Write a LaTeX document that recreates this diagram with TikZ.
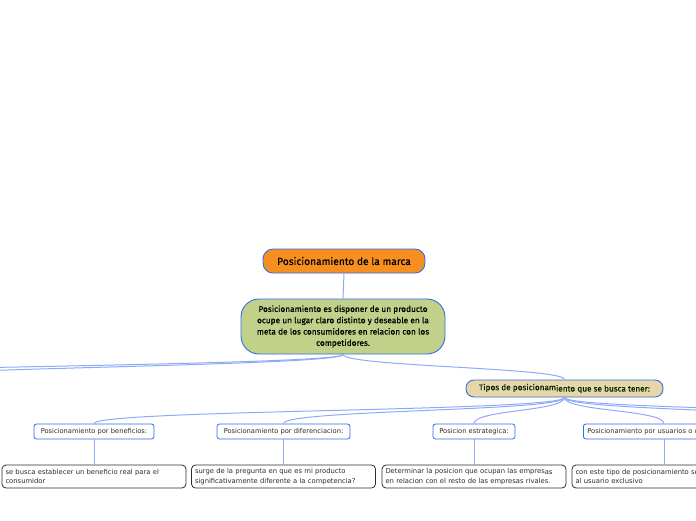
\documentclass[tikz,border=0pt]{standalone}
\usepackage{fontspec}
\setmainfont{Fira Sans}
\newfontfamily\notefont{DejaVu Sans}
\newfontfamily\heavyfont[FakeBold=0.5]{Fira Sans}
\usepackage{xcolor}
\usepackage{tikz}
\usetikzlibrary{calc,positioning}
\definecolor{mapblue}{RGB}{45,110,230}
\definecolor{linkblue}{RGB}{140,170,246}
\definecolor{rootorange}{RGB}{246,143,32}
\definecolor{ideagreen}{RGB}{194,209,138}
\definecolor{typetan}{RGB}{231,214,168}
\definecolor{inkgray}{RGB}{45,45,45}
\tikzset{
  root/.style={draw=mapblue, fill=rootorange, line width=0.9pt, rounded corners=10pt,
    minimum width=162pt, minimum height=24pt, inner sep=0pt, font=\heavyfont\fontsize{10.2}{12}\selectfont},
  idea/.style={draw=mapblue, fill=ideagreen, line width=0.9pt, rounded corners=18pt,
    minimum width=204pt, minimum height=55pt, inner sep=0pt, align=center,
    font=\heavyfont\fontsize{8.3}{11.3}\selectfont},
  kind/.style={draw=mapblue, fill=typetan, line width=0.9pt, rounded corners=8pt,
    minimum width=197pt, minimum height=17pt, inner sep=0pt, text=black!85!green,
    font=\heavyfont\fontsize{8.2}{9}\selectfont},
  topic/.style={draw=mapblue, fill=white, line width=0.8pt, rounded corners=2.5pt,
    minimum height=15pt, inner sep=0pt, text=inkgray, font=\notefont\fontsize{6.7}{7}\selectfont},
  note/.style={draw=inkgray, fill=white, line width=0.8pt, rounded corners=4pt,
    minimum width=184pt, minimum height=23pt, inner sep=0pt, text width=177pt, align=left,
    text=inkgray, font=\notefont\fontsize{6.8}{9.3}\selectfont},
  link/.style={draw=linkblue, line width=1pt},
  stem/.style={draw=linkblue, line width=1pt}
}
% curve from a parent bottom down to a child top
\newcommand{\Branch}[3]{%
  \draw[link] (#1) .. controls +(0,#3) and +(0,-#3) .. (#2);}

\begin{document}
\begin{tikzpicture}[x=1pt,y=-1pt]
  \useasboundingbox (0,0) rectangle (696,520);

  % main ideas
  \node[root] (brand) at (344,261) {Posicionamiento de la marca};
  \node[idea] (define) at (343,326.5) {Posicionamiento es disponer de un producto\\
    ocupe un lugar claro distinto y deseable en la\\
    meta de los consumidores en relacion con los\\
    competidores.};
  \node[kind] (kinds) at (564.5,388.5) {Tipos de posicionam\raisebox{-1.3pt}{iento que se busca tener:}};

  % kinds of positioning
  \node[topic, minimum width=120pt] (benefit) at (94,431.5) {Posicionamiento por beneficios:};
  \node[topic, minimum width=133pt] (differ) at (283.5,431.5) {Posicionamiento por diferenciacion:};
  \node[topic, minimum width=82pt] (strategy) at (474,431.5) {Posicion estrategica:};
  \node[topic, minimum width=175pt, anchor=west, align=left, inner xsep=4pt, text width=167pt] (users) at (583,431.5) {Posicionamiento por usuarios o consumidores:};

  % notes
  \node[note] (benefitnote) at (94,476.5) {se busca establecer un beneficio real para el\\ consumidor};
  \node[note] (differnote) at (283.5,476.5) {surge de la pregunta en que es mi producto\\ significativamente diferente a la competencia?};
  \node[note] (strategynote) at (474,476.5) {Determinar la posicion que ocupan las empres\raisebox{-0.8pt}{as}\\ en relacion con el resto de las empresas rivales.};
  \node[note] (usersnote) at (664,476.5) {con este tipo de posicionamiento se dirige\\ al usuario exclusivo};

  % branches leaving the picture
  \coordinate (westA) at (-140,380);
  \coordinate (westB) at (-330,380);
  \coordinate (eastA) at (860,424);
  \coordinate (eastB) at (1060,424);

  % connectors
  \draw[stem] (brand.south) -- (define.north);
  \Branch{define.south}{kinds.north}{12}
  \Branch{define.south}{westA}{12}
  \Branch{define.south}{westB}{12}
  \foreach \n in {benefit,differ,strategy}{
    \Branch{kinds.south}{\n.north}{14}
  }
  \Branch{kinds.south}{users.north-|usersnote.north}{14}
  \Branch{kinds.south}{eastA}{14}
  \Branch{kinds.south}{eastB}{14}
  \draw[stem] (benefit) -- (benefitnote);
  \draw[stem] (differ) -- (differnote);
  \draw[stem] (strategy) -- (strategynote);
  \draw[stem] (users.south-|usersnote.north) -- (usersnote.north);
\end{tikzpicture}
\end{document}
